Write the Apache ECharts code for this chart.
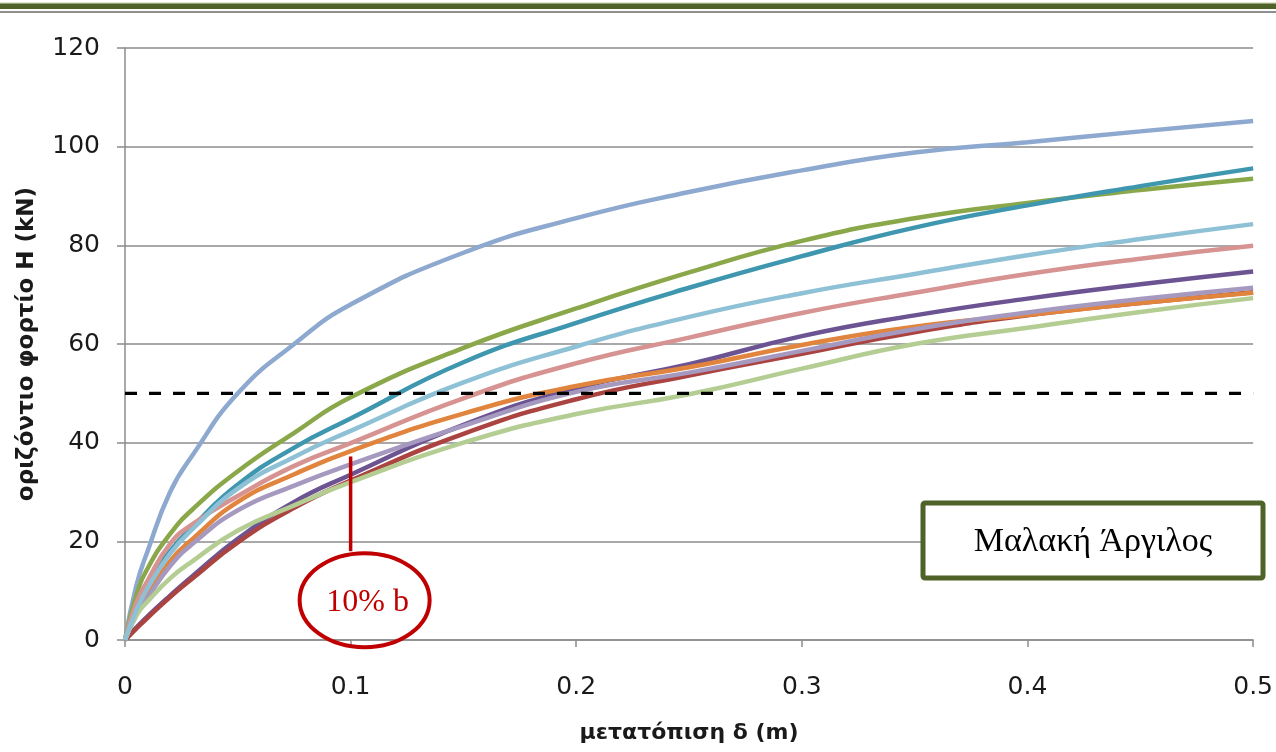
<!DOCTYPE html>
<html>
<head>
<meta charset="utf-8">
<script src="https://cdn.jsdelivr.net/npm/echarts@6/dist/echarts.min.js"></script>
<style>
  html, body { margin: 0; padding: 0; background: #ffffff; }
  #chart { width: 1276px; height: 752px; }
</style>
</head>
<body>
<div id="chart"></div>
<script>
// Horizontal displacement δ (m) at which each load curve is sampled
const deltas = [0, 0.005, 0.01, 0.02, 0.03, 0.05, 0.075, 0.1, 0.15, 0.2, 0.25, 0.3, 0.35, 0.4, 0.45, 0.5];

// Horizontal load H (kN) for each curve
const curveBlue     = [0, 11, 18, 30, 37.5, 50, 60, 68.0, 78.5, 85.5, 90.8, 95.2, 98.8, 100.9, 103.1, 105.2];
const curveGreen    = [0, 9, 14.5, 21.5, 26.5, 34.2, 42, 49.2, 59.2, 67.2, 74.5, 80.9, 85.5, 88.6, 91.2, 93.5];
const curveTeal     = [0, 7, 11.5, 18, 23, 31.5, 39.0, 44.9, 56.3, 64.3, 71.4, 77.8, 83.6, 88.1, 92.0, 95.6];
const curvePink     = [0, 7.5, 12, 19.5, 23.5, 29.2, 35.3, 39.9, 49.0, 56.1, 61.3, 66.3, 70.4, 74.2, 77.3, 79.9];
const curvePurple   = [0, 2.5, 4.8, 9, 13, 20.5, 28, 33.5, 43.6, 51.0, 55.9, 61.6, 65.8, 69.2, 72.1, 74.7];
const curveRed      = [0, 2.3, 4.5, 8.7, 12.5, 19.8, 26.8, 32.3, 41.8, 48.8, 53.6, 58.0, 62.4, 65.8, 68.3, 70.5];
const curveOrange   = [0, 5.5, 9, 16, 20.5, 28.0, 33.6, 38.3, 45.9, 51.5, 55.3, 59.8, 63.5, 65.9, 68.3, 70.4];
const curveLavender = [0, 5, 8.5, 15, 19.5, 26.3, 31.3, 35.6, 43.4, 50.3, 54.2, 58.6, 63.0, 66.4, 69.1, 71.4];
const curveLtGreen  = [0, 5, 7.8, 12.5, 16, 22.2, 27.3, 32.0, 40.0, 45.8, 49.8, 55.0, 60.0, 63.3, 66.5, 69.3];
const curveCyan     = [0, 6, 10.5, 17.5, 22.5, 30.7, 37.1, 42.4, 52.2, 59.5, 65.5, 70.3, 74.2, 78.0, 81.3, 84.3];

// Reference load level (kN)
const limitLoad = 50;

// Axis ticks
const xTicks = { min: 0, max: 0.5, step: 0.1 };
const yTicks = { min: 0, max: 120, step: 20 };

// Texts
const xTitle = 'μετατόπιση δ (m)';
const yTitle = 'οριζόντιο φορτίο Η (kN)';
const boxLabel = 'Μαλακή Άργιλος';
const noteLabel = '10% b';
const notePoint = { delta: 0.1, hTop: 37.2, hBottom: 18 };

const curves = [
  { name: 'H-1',  data: curveBlue,     color: '#8EA9CF' },
  { name: 'H-2',  data: curveGreen,    color: '#8AA84A' },
  { name: 'H-3',  data: curveTeal,     color: '#3F97AF' },
  { name: 'H-4',  data: curvePink,     color: '#D69391' },
  { name: 'H-5',  data: curvePurple,   color: '#6C5392' },
  { name: 'H-6',  data: curveRed,      color: '#AB4341' },
  { name: 'H-7',  data: curveOrange,   color: '#E0843E' },
  { name: 'H-8',  data: curveLavender, color: '#A699BF' },
  { name: 'H-9',  data: curveLtGreen,  color: '#B4CD93' },
  { name: 'H-10', data: curveCyan,     color: '#8EC1D5' }
];

const textColor = '#1a1a1a';
const gridColor = '#8c8c8c';

const chart = echarts.init(document.getElementById('chart'), null, { renderer: 'canvas' });

const series = curves.map(c => ({
  name: c.name,
  type: 'line',
  data: deltas.map((d, i) => [d, c.data[i]]),
  smooth: 0.5,
  showSymbol: false,
  symbol: 'none',
  lineStyle: { color: c.color, width: 4.5 },
  itemStyle: { color: c.color },
  z: 3
}));

series.push({
  name: 'limit',
  type: 'line',
  data: [[xTicks.min, limitLoad], [xTicks.max, limitLoad]],
  showSymbol: false,
  symbol: 'none',
  lineStyle: { color: '#000000', width: 3.2, type: [12, 12] },
  z: 4
});

chart.setOption({
  animation: false,
  backgroundColor: '#ffffff',
  grid: { left: 125, right: 22, top: 48, bottom: 112, containLabel: false },
  xAxis: {
    type: 'value',
    min: xTicks.min, max: xTicks.max, interval: xTicks.step,
    name: xTitle,
    nameLocation: 'middle',
    nameGap: 82,
    nameTextStyle: { fontFamily: 'DejaVu Sans', fontWeight: 'bold', fontSize: 22, color: textColor },
    axisLine: { show: true, lineStyle: { color: gridColor, width: 1.5 } },
    axisTick: { show: true, length: 7, lineStyle: { color: gridColor, width: 1.5 } },
    axisLabel: { margin: 35, fontFamily: 'DejaVu Sans', fontSize: 25, color: textColor },
    splitLine: { show: false }
  },
  yAxis: {
    type: 'value',
    min: yTicks.min, max: yTicks.max, interval: yTicks.step,
    name: yTitle,
    nameLocation: 'middle',
    nameGap: 86,
    nameTextStyle: { fontFamily: 'DejaVu Sans', fontWeight: 'bold', fontSize: 23, color: textColor },
    axisLine: { show: true, lineStyle: { color: gridColor, width: 1.5 } },
    axisTick: { show: true, length: 8, lineStyle: { color: gridColor, width: 1.5 } },
    axisLabel: { margin: 25, fontFamily: 'DejaVu Sans', fontSize: 25, color: textColor },
    splitLine: { show: true, lineStyle: { color: gridColor, width: 1.5 } }
  },
  series: series
});

// Annotation pieces placed through the grid's own coordinate system
const pTop = chart.convertToPixel({ gridIndex: 0 }, [notePoint.delta, notePoint.hTop]);
const pBot = chart.convertToPixel({ gridIndex: 0 }, [notePoint.delta, notePoint.hBottom]);
const ellipseCx = pBot[0] + 14;
const ellipseCy = pBot[1] + 49;

chart.setOption({
  graphic: [
    // page header rule
    { type: 'rect', silent: true, shape: { x: 0, y: 2.5, width: 1276, height: 1 }, style: { fill: '#C3D19E' } },
    { type: 'rect', silent: true, shape: { x: 0, y: 3.5, width: 1276, height: 5.5 }, style: { fill: '#4F6228' } },
    { type: 'rect', silent: true, shape: { x: 0, y: 11, width: 1276, height: 2 }, style: { fill: '#8f8f8f' } },
    // 10% b marker
    {
      type: 'line', silent: true, z: 10,
      shape: { x1: pTop[0], y1: pTop[1], x2: pBot[0], y2: pBot[1] },
      style: { stroke: '#C00000', lineWidth: 3.5 }
    },
    {
      type: 'ellipse', silent: true, z: 10,
      shape: { cx: ellipseCx, cy: ellipseCy, rx: 65, ry: 47 },
      style: { fill: 'rgba(255,255,255,0)', stroke: '#C00000', lineWidth: 4 }
    },
    {
      type: 'text', silent: true, z: 11,
      x: ellipseCx + 3, y: ellipseCy + 2,
      style: {
        text: noteLabel, fill: '#C00000',
        font: '32px "Liberation Serif", serif',
        align: 'center', verticalAlign: 'middle'
      }
    },
    // soil label box
    {
      type: 'rect', silent: true, z: 10,
      shape: { x: 923, y: 503, width: 340, height: 75, r: 2 },
      style: { fill: '#ffffff', stroke: '#4F6228', lineWidth: 5 }
    },
    {
      type: 'text', silent: true, z: 11,
      x: 1093, y: 542,
      style: {
        text: boxLabel, fill: '#000000',
        font: '34px "Liberation Serif", serif',
        align: 'center', verticalAlign: 'middle'
      }
    }
  ]
});
</script>
</body>
</html>
